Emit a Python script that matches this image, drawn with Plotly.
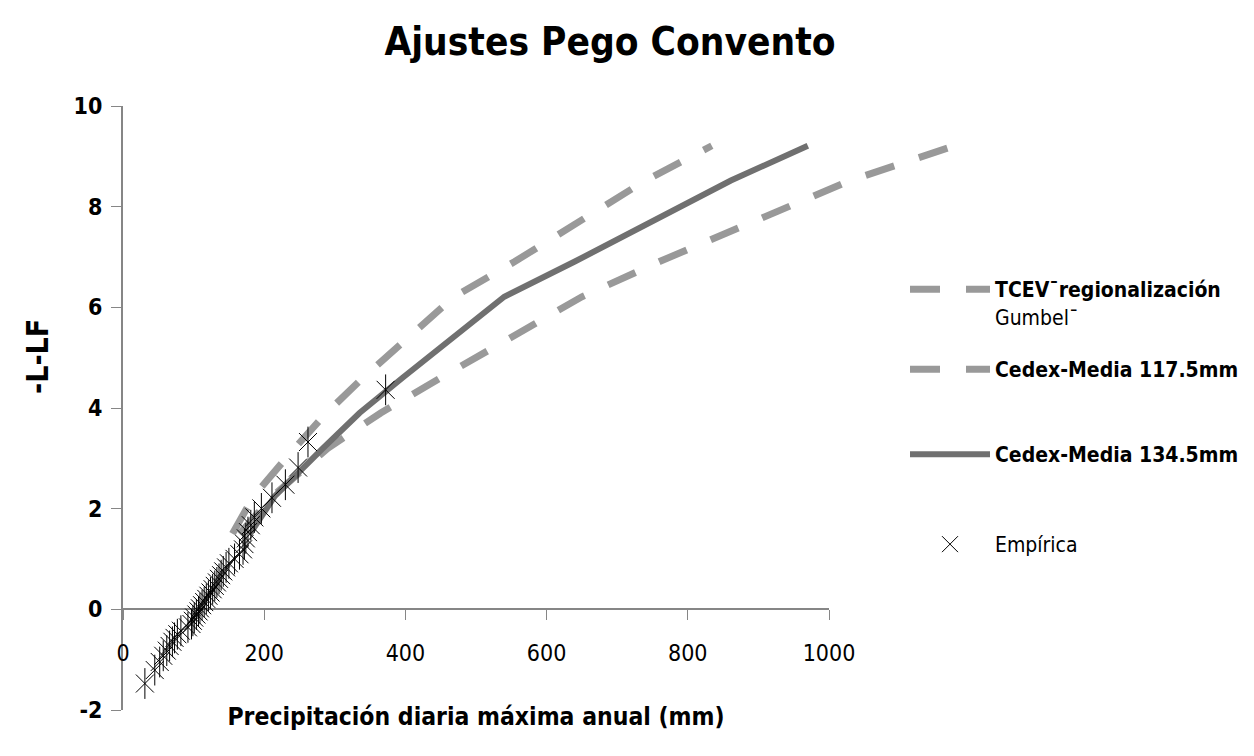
import plotly.graph_objects as go

# Reduced Gumbel variate (-Ln(-Ln F)) at the fitted return periods
curve_y = [1.50, 2.25, 3.20, 3.90, 4.60, 5.30, 6.21, 6.91, 8.52, 9.21]
tcev_x = [165, 212, 290, 365, 450, 535, 650, 760, 1030, 1178]
cedex_1175_x = [155, 185, 243, 288, 340, 396, 469, 555, 740, 834]
cedex_1345_x = [180, 215, 283, 335, 396, 460, 540, 640, 861, 970]

# Empirical sample (annual maximum daily precipitation, mm) and its plotting position
emp_x = [31, 45, 52, 57, 62, 66, 70, 73, 77, 82, 92, 97, 99, 101, 104, 107, 109, 112,
         115, 118, 121, 124, 127, 130, 133, 136, 139, 142, 146, 150, 158, 165, 170,
         172, 174, 177, 181, 186, 196, 211, 230, 248, 262, 372]
emp_y = [-1.474, -1.207, -1.046, -0.923, -0.820, -0.728, -0.645, -0.568, -0.495,
         -0.425, -0.358, -0.292, -0.228, -0.165, -0.103, -0.041, 0.020, 0.082, 0.144,
         0.207, 0.270, 0.334, 0.399, 0.466, 0.535, 0.605, 0.678, 0.754, 0.833, 0.915,
         1.002, 1.094, 1.191, 1.296, 1.410, 1.534, 1.671, 1.826, 2.005, 2.216, 2.476,
         2.817, 3.324, 4.361]

x_ticks = [0, 200, 400, 600, 800, 1000]
y_ticks = [-2, 0, 2, 4, 6, 8, 10]

# page has an 8px body margin: figure coordinates = page coordinates - 8
W, H = 1246, 748
L, T = 115, 98
R = W - 957
B = H - 702
plot_w = W - L - R
plot_h = H - T - B
px_per_mm = 0.706
x_axis_frac = 1000 * px_per_mm / plot_w

FONT = "DejaVu Sans Condensed, Liberation Sans Narrow, Arial Narrow, Liberation Sans, sans-serif"
AX = "#868686"
DASH_C = "#999999"
SOLID_C = "#707070"

fig = go.Figure()
fig.add_trace(go.Scatter(
    x=tcev_x, y=curve_y, mode="lines", xaxis="x2", yaxis="y",
    name="<b>TCEV¯regionalización</b><br>Gumbel¯", legend="legend",
    line=dict(color=DASH_C, width=7, dash="30px,26px"),
))
fig.add_trace(go.Scatter(
    x=cedex_1175_x, y=curve_y, mode="lines", xaxis="x2", yaxis="y",
    name="<b>Cedex-Media 117.5mm</b>", legend="legend2",
    line=dict(color=DASH_C, width=7, dash="30px,26px"),
))
fig.add_trace(go.Scatter(
    x=cedex_1345_x, y=curve_y, mode="lines", xaxis="x2", yaxis="y",
    name="<b>Cedex-Media 134.5mm</b>", legend="legend3",
    line=dict(color=SOLID_C, width=6),
))
fig.add_trace(go.Scatter(
    x=emp_x, y=emp_y, mode="markers", xaxis="x2", yaxis="y",
    name="Empírica", legend="legend4", legendgroup="emp",
    marker=dict(symbol="x-thin-open", size=18, color="black",
                line=dict(color="black", width=1)),
    cliponaxis=False,
))
fig.add_trace(go.Scatter(
    x=emp_x, y=emp_y, mode="markers", xaxis="x2", yaxis="y",
    name="Empírica", legend="legend4", legendgroup="emp", showlegend=False,
    marker=dict(symbol="line-ns-open", size=22, color="black",
                line=dict(color="black", width=1)),
    cliponaxis=False,
))
# empty trace so the visible (tick-bearing) x axis gets drawn
fig.add_trace(go.Scatter(x=[], y=[], xaxis="x", yaxis="y", showlegend=False,
                         hoverinfo="skip"))


def legend_at(page_x, page_y):
    return dict(
        x=(page_x - 8) / W, xref="container", y=1 - (page_y - 8) / H, yref="container",
        xanchor="left", yanchor="top", valign="top", bgcolor="rgba(0,0,0,0)",
        font=dict(size=21, family=FONT), itemwidth=80,
    )


fig.update_layout(
    width=W, height=H, showlegend=True,
    margin=dict(l=L, r=R, t=T, b=B, autoexpand=False),
    paper_bgcolor="white", plot_bgcolor="rgba(0,0,0,0)",
    font=dict(family=FONT, color="black", size=22),
    title=dict(text="<b>Ajustes Pego Convento</b>", x=(610 - 8) / W, xref="container",
               xanchor="center", y=1 - (42 - 8) / H, yref="container", yanchor="middle",
               font=dict(size=38.5, family=FONT)),
    xaxis=dict(
        domain=[0, x_axis_frac], range=[0, 1000], anchor="free", position=2 / 12,
        tickvals=x_ticks, ticktext=[str(v) for v in x_ticks],
        showline=True, linecolor=AX, linewidth=2, ticks="outside", ticklen=10,
        tickwidth=1, tickcolor=AX, showgrid=False, zeroline=False,
        tickfont=dict(size=23, family=FONT), ticklabelstandoff=13,
        title=dict(text="<b>Precipitación diaria máxima anual (mm)</b>",
                   font=dict(size=24.5, family=FONT), standoff=42),
    ),
    xaxis2=dict(
        domain=[0, 1], range=[0, plot_w / px_per_mm], anchor="y", visible=False,
        showgrid=False, zeroline=False,
    ),
    yaxis=dict(
        domain=[0, 1], range=[-2, 10], anchor="x", tickvals=y_ticks,
        ticktext=["<b>%d</b>" % v for v in y_ticks],
        showline=True, linecolor=AX, linewidth=2, ticks="outside", ticklen=10,
        tickwidth=1, tickcolor=AX, showgrid=False, zeroline=False,
        tickfont=dict(size=23, family=FONT), ticklabelstandoff=4,
    ),
    legend=legend_at(905, 269),
    legend2=legend_at(905, 349),
    legend3=legend_at(905, 434),
    legend4=legend_at(905, 524),
    annotations=[dict(
        text="<b>-L-LF</b>", textangle=-90, xref="paper", yref="paper",
        x=(37 - 8 - L) / plot_w, y=(H - B - (357 - 8)) / plot_h, showarrow=False,
        xanchor="center", yanchor="middle", font=dict(size=30, family=FONT),
    )],
)

fig.write_html("out.html")
